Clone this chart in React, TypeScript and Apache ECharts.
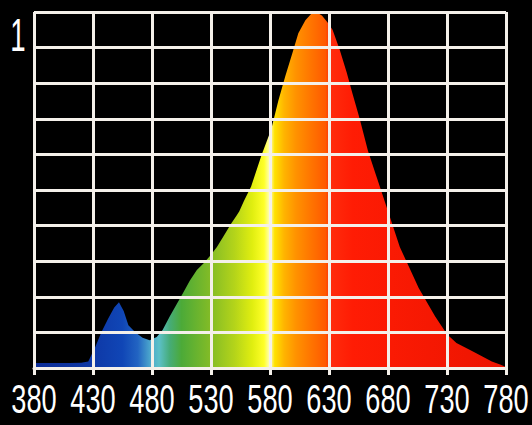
import React, { useEffect, useRef } from "react";
import * as echarts from "echarts";

// Spectrum: wavelength (nm) and relative intensity
const wavelengths = [
  380, 390, 400, 410, 420, 426, 432, 437, 443, 448, 452, 456, 460, 466, 472, 478, 484, 489, 495,
  501, 507, 512, 518, 524, 530, 535, 541, 547, 552, 554, 558, 564, 568, 573, 577, 581, 587, 593,
  599, 604, 610, 615, 619, 624, 629, 633, 639, 645, 650, 656, 663, 670, 676, 684, 690, 699, 706,
  713, 720, 730, 738, 745, 752, 760, 768, 775, 780,
];
const intensity = [
  0.014, 0.014, 0.014, 0.014, 0.015, 0.018, 0.06, 0.1, 0.14, 0.17, 0.185, 0.16, 0.12, 0.1, 0.085,
  0.078, 0.087, 0.107, 0.145, 0.18, 0.215, 0.245, 0.275, 0.295, 0.318, 0.34, 0.372, 0.405, 0.43,
  0.44, 0.47, 0.51, 0.55, 0.6, 0.635, 0.67, 0.75, 0.82, 0.885, 0.94, 0.977, 0.995, 1.0, 0.99,
  0.97, 0.95, 0.895, 0.83, 0.77, 0.7, 0.61, 0.54, 0.48, 0.4, 0.34, 0.275, 0.225, 0.185, 0.145,
  0.095, 0.07, 0.058, 0.046, 0.032, 0.018, 0.01, 0.003,
];

// Tick labels
const xTicks = [380, 430, 480, 530, 580, 630, 680, 730, 780];
const yTickValue = 1;
const yTickLabel = "1";

// Colour of the spectrum at given wavelengths
const colorStopsNm = [
  380, 430, 455, 468, 478, 486, 495, 505, 530, 550, 565, 575, 580, 584, 592, 602, 615, 627, 631,
  650, 780,
];
const colorStopsHex = [
  "#0c2c96", "#0e38a6", "#1046b6", "#2264c2", "#4aa4cc", "#5cc0c8", "#46ac78", "#4caa38",
  "#84bc26", "#b4d41a", "#e0ee10", "#ffff28", "#ffffc0", "#ffe200", "#ffb400", "#ff9200",
  "#ff7400", "#ff5a00", "#ff2c0c", "#ff1c04", "#ec1400",
];

export default function App() {
  const ref = useRef<HTMLDivElement>(null);
  useEffect(() => {
    document.body.style.margin = "0";
    document.body.style.background = "#000";
    const chart = echarts.init(ref.current!, null, { renderer: "svg" });
    const minX = xTicks[0];
    const maxX = xTicks[xTicks.length - 1];
    const stops = colorStopsNm.map((nm, i) => ({
      offset: (nm - minX) / (maxX - minX),
      color: colorStopsHex[i],
    }));
    const gridColor = "#f4f0ea";
    chart.setOption({
      animation: false,
      backgroundColor: "#000",
      grid: { left: 34, right: 26, top: 12, bottom: 57 },
      xAxis: {
        type: "value",
        min: minX,
        max: maxX,
        interval: 50,
        z: 10,
        axisLine: { show: true, lineStyle: { color: gridColor, width: 3 } },
        axisTick: { show: true, length: 7, lineStyle: { color: gridColor, width: 3 } },
        axisLabel: { show: false },
        splitLine: { show: true, lineStyle: { color: gridColor, width: 3 } },
      },
      yAxis: {
        type: "value",
        min: 0,
        max: 1,
        interval: 0.1,
        z: 10,
        axisLine: { show: false },
        axisTick: { show: false },
        axisLabel: { show: false },
        splitLine: { show: true, lineStyle: { color: gridColor, width: 3 } },
      },
      series: [
        {
          type: "line",
          data: wavelengths.map((w, i) => [w, intensity[i]]),
          showSymbol: false,
          symbol: "none",
          lineStyle: { width: 0 },
          areaStyle: {
            opacity: 1,
            color: new echarts.graphic.LinearGradient(0, 0, 1, 0, stops),
          },
          z: 2,
        },
      ],
    });

    // Condensed tick labels placed through the axes' scales
    const xFont = '40px "Liberation Sans", Arial, sans-serif';
    const yFont = '46px "Liberation Sans", Arial, sans-serif';
    const baseY = chart.convertToPixel({ yAxisIndex: 0 }, 0) as number;
    const xLabels = xTicks.map((v) => ({
      type: "text",
      x: chart.convertToPixel({ xAxisIndex: 0 }, v) as number,
      y: baseY + 31,
      scaleX: 0.68,
      silent: true,
      style: {
        text: String(v),
        fill: "#ffffff",
        font: xFont,
        align: "center",
        verticalAlign: "middle",
      },
    }));
    const yTop = chart.convertToPixel({ yAxisIndex: 0 }, yTickValue) as number;
    const yLabel = {
      type: "text",
      x: 18,
      y: yTop + 23,
      scaleX: 0.6,
      silent: true,
      style: {
        text: yTickLabel,
        fill: "#ffffff",
        font: yFont,
        align: "center",
        verticalAlign: "middle",
      },
    };
    chart.setOption({ graphic: [...xLabels, yLabel] });
    return () => chart.dispose();
  }, []);
  return <div ref={ref} style={{ width: 532, height: 425 }} />;
}
